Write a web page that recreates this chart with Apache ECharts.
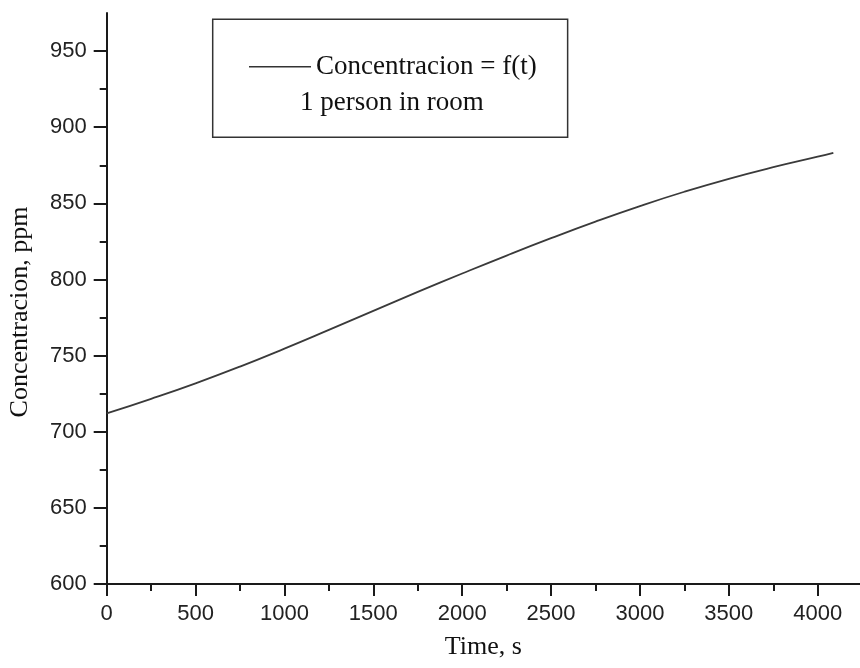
<!DOCTYPE html>
<html>
<head>
<meta charset="utf-8">
<script src="https://cdn.jsdelivr.net/npm/echarts@6/dist/echarts.min.js"></script>
<style>html,body{margin:0;padding:0;background:#fff}#c{width:860px;height:668px}</style>
</head>
<body>
<div id="c"></div>
<script>
// Data
var times = [0, 250, 500, 750, 1000, 1250, 1500, 1750, 2000, 2250, 2500, 2750, 3000, 3250, 3500, 3750, 4000, 4088];
var concentration = [712, 721.6, 731.8, 742.8, 754.6, 766.9, 779.4, 791.8, 803.9, 815.7, 827.1, 838.0, 848.2, 857.6, 866.1, 873.7, 880.6, 883.2];
var xMajorTicks = [0, 500, 1000, 1500, 2000, 2500, 3000, 3500, 4000];
var xMinorTicks = [250, 750, 1250, 1750, 2250, 2750, 3250, 3750];
var yMajorTicks = [600, 650, 700, 750, 800, 850, 900, 950];
var yMinorTicks = [625, 675, 725, 775, 825, 875, 925];
var seriesName = 'Concentracion = f(t)';
var legendNote = '1 person in room';
var xTitle = 'Time, s';
var yTitle = 'Concentracion, ppm';

var points = times.map(function (t, i) { return [t, concentration[i]]; });
var chart = echarts.init(document.getElementById('c'), null, {renderer: 'canvas'});
var sans = '"Liberation Sans", Arial, sans-serif';
var serif = '"Liberation Serif", "Times New Roman", serif';
var axisColor = '#1a1a1a';
var plain = function (v) { return String(v); };

chart.setOption({
  animation: false,
  backgroundColor: '#fff',
  grid: {left: 106.7, right: 0, top: 13, bottom: 84, containLabel: false, outerBoundsMode: 'none'},
  legend: {
    data: [seriesName],
    left: 212.7, top: 19.3,
    orient: 'vertical',
    padding: [34, 31, 57, 35.6],
    borderColor: '#333', borderWidth: 1.5,
    itemWidth: 62, itemHeight: 14,
    itemStyle: {color: 'rgba(0,0,0,0)', borderWidth: 0, opacity: 0},
    lineStyle: {color: '#333', width: 1.4},
    textStyle: {fontFamily: serif, fontSize: 27, color: '#111'}
  },
  graphic: [{
    type: 'text', left: 300, top: 89, z: 100,
    style: {text: legendNote, font: '27px ' + serif, fill: '#111'}
  }],
  xAxis: [{
    type: 'value', min: 0, max: 4238, position: 'bottom',
    name: xTitle, nameLocation: 'middle', nameGap: 50,
    nameTextStyle: {fontFamily: serif, fontSize: 26, color: '#111'},
    axisLine: {onZero: false, lineStyle: {color: axisColor, width: 2}},
    axisTick: {show: true, inside: false, customValues: xMajorTicks, length: 12, lineStyle: {color: axisColor, width: 2}},
    axisLabel: {customValues: xMajorTicks, formatter: plain, margin: 19, fontFamily: sans, fontSize: 22, color: '#222'},
    splitLine: {show: false}
  }, {
    type: 'value', min: 0, max: 4238, position: 'bottom', offset: 0,
    axisLine: {show: false, onZero: false},
    axisTick: {show: true, inside: false, customValues: xMinorTicks, length: 7, lineStyle: {color: axisColor, width: 2}},
    axisLabel: {show: false},
    splitLine: {show: false}
  }],
  yAxis: [{
    type: 'value', min: 600, max: 975, position: 'left',
    name: yTitle, nameLocation: 'middle', nameGap: 74, nameRotate: 90,
    nameTextStyle: {fontFamily: serif, fontSize: 26, color: '#111', padding: [0, 27, 0, 0]},
    axisLine: {onZero: false, lineStyle: {color: axisColor, width: 2}},
    axisTick: {show: true, inside: false, customValues: yMajorTicks, length: 13, lineStyle: {color: axisColor, width: 2}},
    axisLabel: {customValues: yMajorTicks, formatter: plain, margin: 20, fontFamily: sans, fontSize: 22, color: '#222'},
    splitLine: {show: false}
  }, {
    type: 'value', min: 600, max: 975, position: 'left', offset: 0,
    axisLine: {show: false, onZero: false},
    axisTick: {show: true, inside: false, customValues: yMinorTicks, length: 7, lineStyle: {color: axisColor, width: 2}},
    axisLabel: {show: false},
    splitLine: {show: false}
  }],
  series: [{
    name: seriesName,
    type: 'line',
    xAxisIndex: 0, yAxisIndex: 0,
    data: points,
    smooth: true,
    symbol: 'none',
    lineStyle: {color: '#3a3a3a', width: 1.8},
    itemStyle: {color: '#3a3a3a'}
  }]
});
</script>
</body>
</html>
